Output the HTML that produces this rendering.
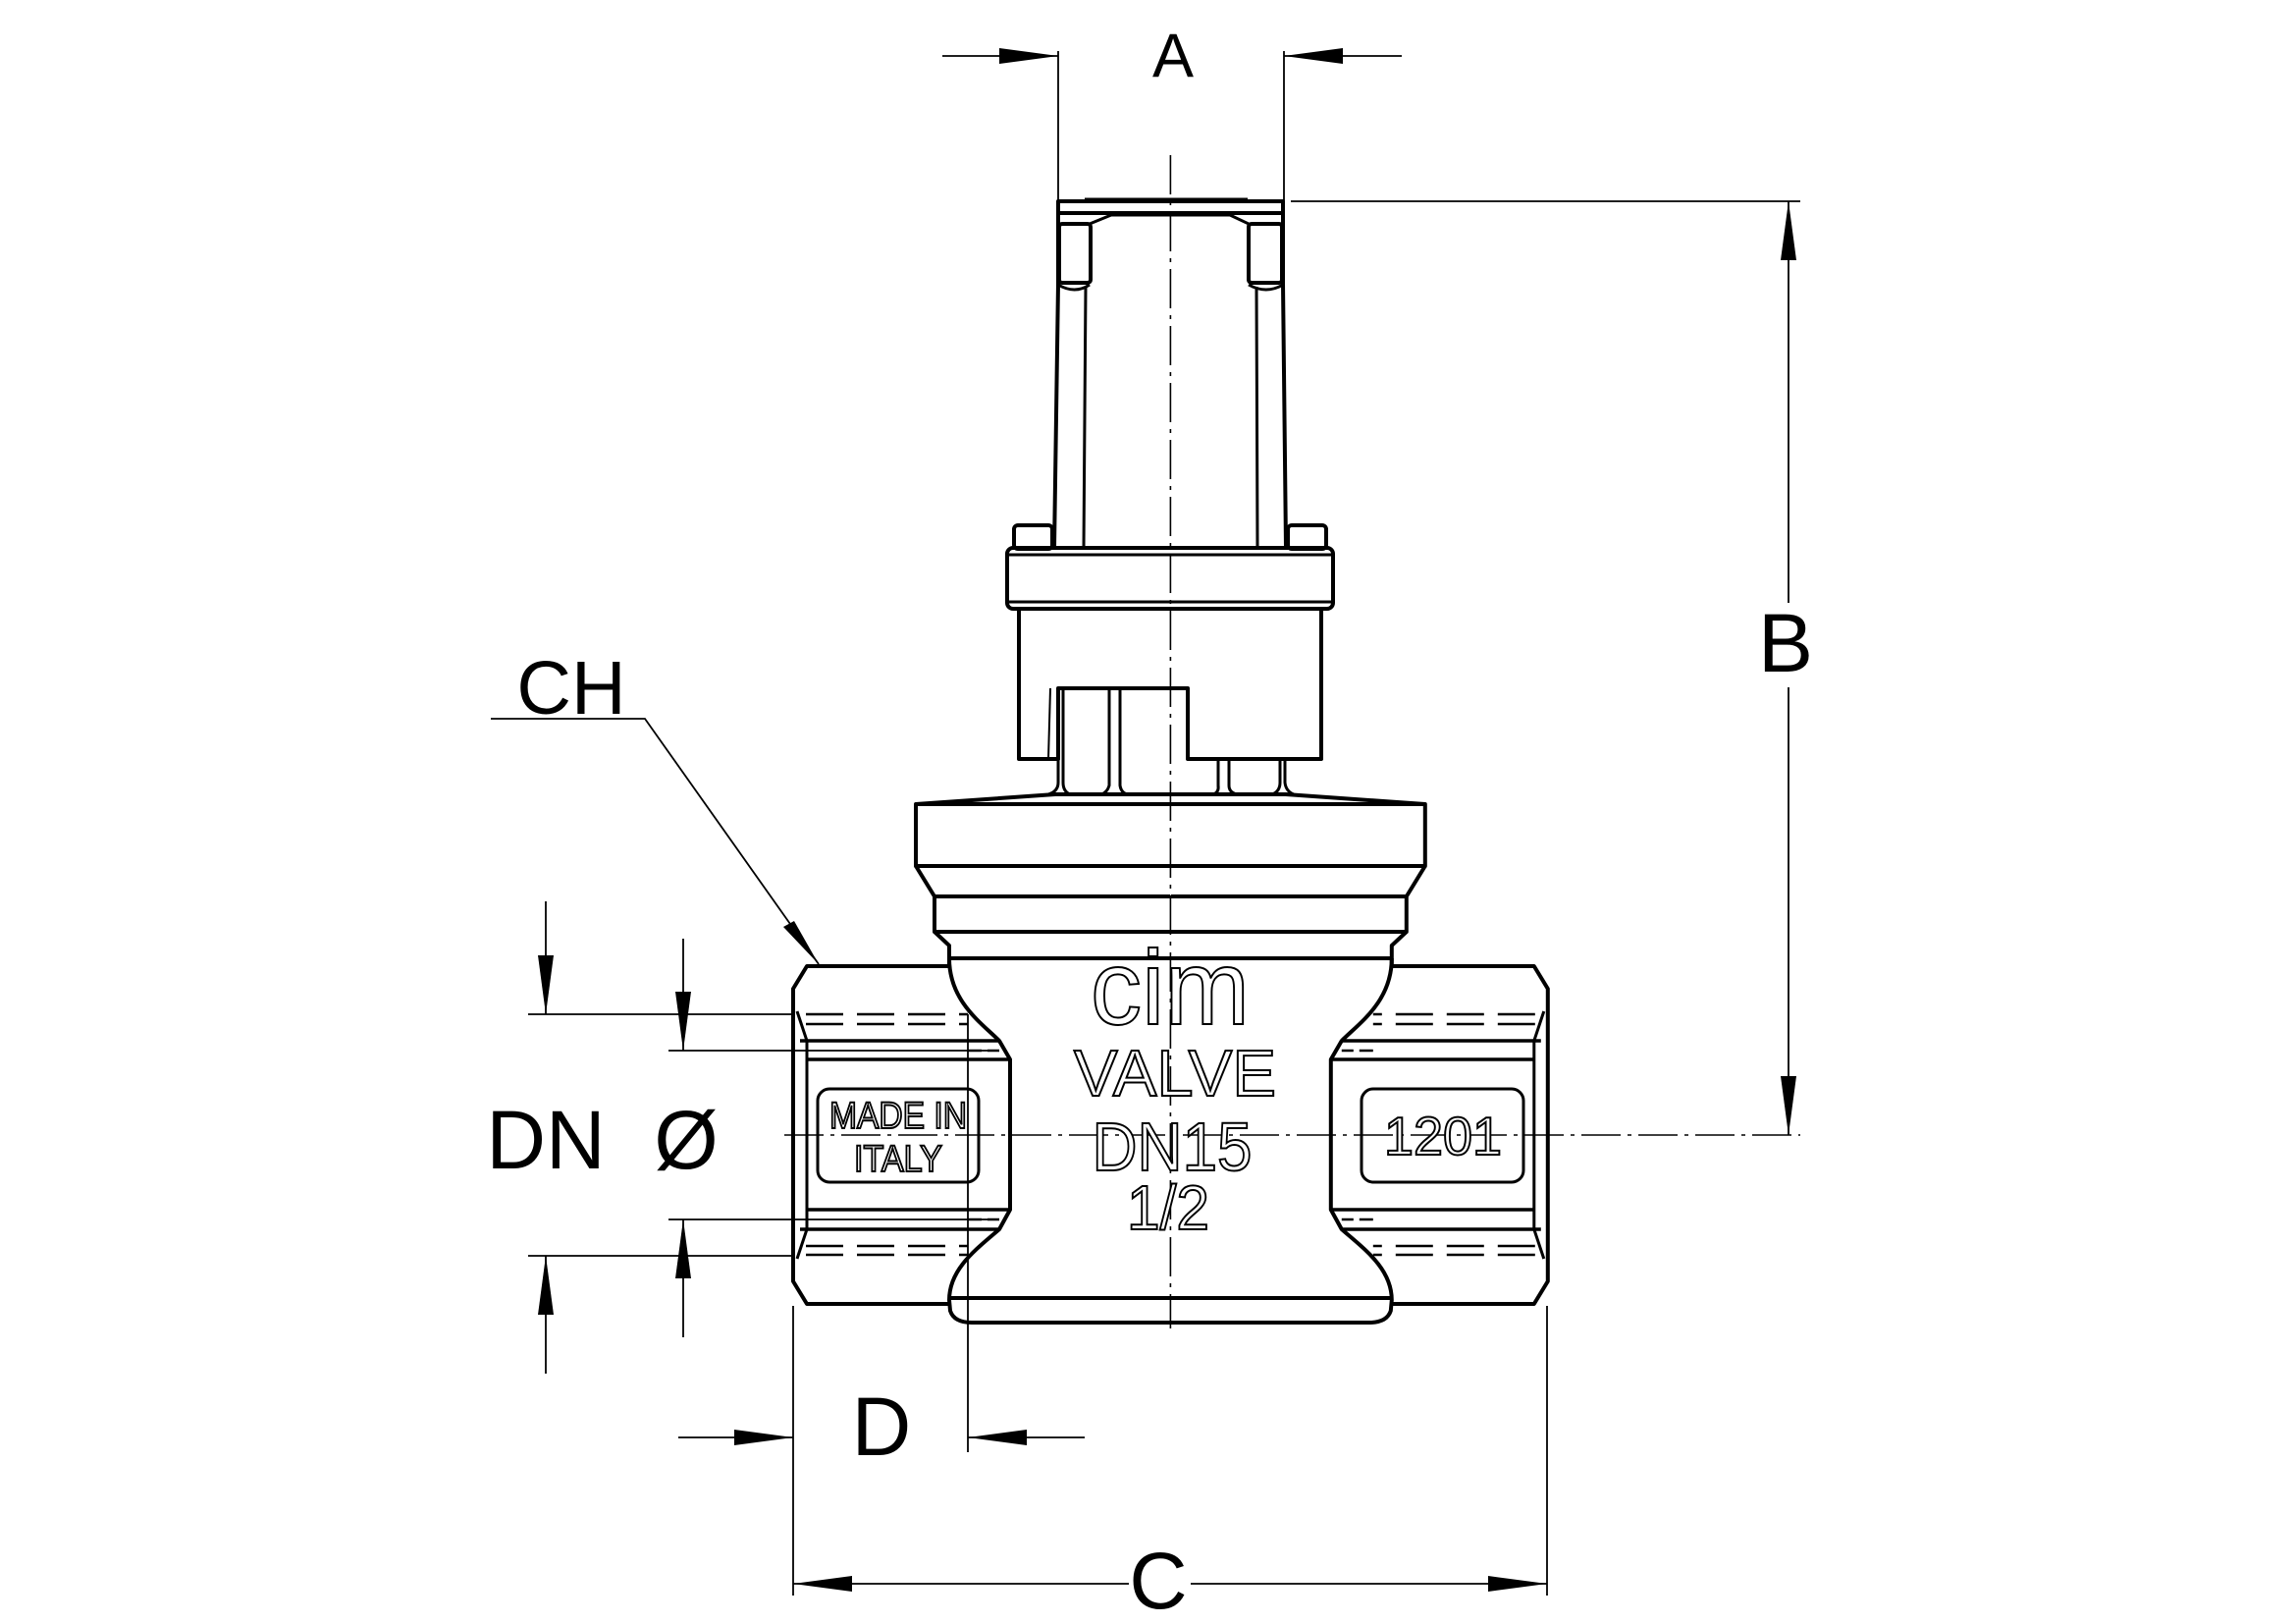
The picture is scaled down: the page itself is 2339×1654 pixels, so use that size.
<!DOCTYPE html>
<html><head><meta charset="utf-8"><style>html,body{margin:0;padding:0;background:#fff}svg{display:block}</style></head>
<body>
<svg xmlns="http://www.w3.org/2000/svg" width="2339" height="1654" viewBox="0 0 2339 1654">
<defs>
<g id="half" fill="none" stroke="#000" stroke-width="4" stroke-linejoin="round">
  <path d="M1192 819 L933 819 L933 882 L1192 882"/>
  <path d="M1192 809 L1075 809 L933 819"/>
  <path d="M933 882 L952 913 L1192 913 M952 913 L952 949 L1192 949 M952 949 L967 963 L967 984"/>
  <path d="M967 976 L1192 976"/>
  <path d="M967 984 L822 984 L808 1007 L808 1305 L822 1328 L967 1328"/>
  <path d="M967 976 C967 1020 1000 1042 1018 1060 L1029 1079 L1029 1232 L1018 1252 C995 1272 967 1292 967 1324 L968 1335 Q972 1347 990 1347 L1192 1347"/>
  <path d="M967 1322 L1192 1322"/>
  <path d="M815 1060 L1018 1060 M822 1079 L1029 1079 M822 1232 L1029 1232 M815 1252 L1018 1252" stroke-width="3.5"/>
  <path d="M812 1030 L822 1060 L822 1252 L812 1282" stroke-width="3"/>
  <path d="M821 1033 L986 1033 M821 1043 L986 1043 M821 1269 L986 1269 M821 1278 L986 1278" stroke-width="2.5" stroke-dasharray="38 14"/>
  <path d="M986 1070 L1018 1070 M986 1242 L1018 1242" stroke-width="2.5" stroke-dasharray="14 6"/>
</g>
<path id="ah" d="M0 0 L-60 -8 L-60 8 Z" fill="#000"/>
</defs>
<rect width="2339" height="1654" fill="#fff"/>
<use href="#half"/>
<use href="#half" transform="matrix(-1 0 0 1 2384.8 0)"/>

<g fill="none" stroke="#000" stroke-width="4" stroke-linejoin="round">
  <rect x="1078" y="205" width="229" height="12"/>
  <path d="M1105 204 L1271 204" stroke-width="5"/>
  <path d="M1078 217 L1078 288 L1074 558 M1307 217 L1307 288 L1310 558"/>
  <rect x="1079" y="228" width="32" height="60" rx="3"/>
  <rect x="1272" y="228" width="34" height="60" rx="3"/>
  <path d="M1110 228 L1132 219 L1253 219 L1272 228" stroke-width="3"/>
  <path d="M1078 290 Q1095 300 1110 290 M1272 290 Q1290 300 1307 290" stroke-width="3"/>
  <path d="M1106 292 L1104 558 M1280 292 L1281 558" stroke-width="3"/>
  <rect x="1033" y="535" width="39" height="24" rx="4"/>
  <rect x="1312" y="535" width="39" height="24" rx="4"/>
  <rect x="1026" y="558" width="332" height="62" rx="6"/>
  <path d="M1028 565 L1356 565 M1028 613 L1356 613" stroke-width="3"/>
  <path d="M1038 620 L1038 773 L1078 773 L1078 701 L1210 701 L1210 773 L1346 773 L1346 620"/>
  <path d="M1070 701 L1068 773" stroke-width="2"/>
  <path d="M1078 773 L1078 797 Q1078 806 1068 809 M1083 701 L1083 797 Q1083 806 1090 809" stroke-width="3"/>
  <path d="M1130 701 L1130 800 Q1128 807 1122 809 M1141 701 L1141 800 Q1142 807 1148 809" stroke-width="3"/>
  <path d="M1241 773 L1241 800 Q1242 807 1236 809 M1252 773 L1252 800 Q1252 807 1260 809" stroke-width="3"/>
  <path d="M1304 773 L1304 797 Q1304 806 1296 809 M1309 773 L1309 797 Q1310 806 1318 809" stroke-width="3"/>
</g>

<g stroke="#000" stroke-width="1.6" fill="none" stroke-dasharray="40 7 4 7">
  <path d="M1192.4 158 L1192.4 1353"/>
  <path d="M799 1156 L1834 1156"/>
</g>

<g fill="none" stroke="#000" stroke-width="3">
  <rect x="833" y="1109" width="164" height="95" rx="12"/>
  <rect x="1387" y="1109" width="165" height="95" rx="12"/>
</g>
<g font-family="Liberation Sans, sans-serif" fill="#fff" stroke="#000" stroke-width="2" text-anchor="middle">
  <text x="915" y="1149" font-size="38" textLength="140" lengthAdjust="spacingAndGlyphs">MADE IN</text>
  <text x="915" y="1193" font-size="38" textLength="90" lengthAdjust="spacingAndGlyphs">ITALY</text>
  <text x="1470" y="1176" font-size="55" textLength="120" lengthAdjust="spacingAndGlyphs">1201</text>
  <text x="1192" y="1043" font-size="108" textLength="162" lengthAdjust="spacingAndGlyphs">cim</text>
  <text x="1197" y="1116" font-size="67" textLength="206" lengthAdjust="spacingAndGlyphs">VALVE</text>
  <text x="1194" y="1192" font-size="70" textLength="163" lengthAdjust="spacingAndGlyphs">DN15</text>
  <text x="1190" y="1252" font-size="64" textLength="84" lengthAdjust="spacingAndGlyphs">1/2</text>
</g>

<g stroke="#000" stroke-width="1.8" fill="none">
  <path d="M1078 52 L1078 205 M1308 52 L1308 205"/>
  <path d="M960 57 L1078 57 M1308 57 L1428 57"/>
  <path d="M1315 205 L1834 205"/>
  <path d="M1822 205 L1822 614 M1822 700 L1822 1156"/>
  <path d="M808 1330 L808 1625 M1576 1330 L1576 1625"/>
  <path d="M808 1613 L1150 1613 M1213 1613 L1576 1613"/>
  <path d="M986 1033 L986 1479"/>
  <path d="M691 1464 L808 1464 M986 1464 L1105 1464"/>
  <path d="M538 1033 L808 1033 M538 1279 L808 1279"/>
  <path d="M556 918 L556 1033 M556 1279 L556 1399"/>
  <path d="M681 1070 L1018 1070 M681 1242 L1018 1242"/>
  <path d="M696 956 L696 1070 M696 1242 L696 1362"/>
  <path d="M500 732 L657 732 L834 982"/>
</g>
<g>
  <use href="#ah" transform="translate(1078 57)"/>
  <use href="#ah" transform="translate(1308 57) rotate(180)"/>
  <use href="#ah" transform="translate(1822 205) rotate(-90)"/>
  <use href="#ah" transform="translate(1822 1156) rotate(90)"/>
  <use href="#ah" transform="translate(808 1613) rotate(180)"/>
  <use href="#ah" transform="translate(1576 1613)"/>
  <use href="#ah" transform="translate(808 1464)"/>
  <use href="#ah" transform="translate(986 1464) rotate(180)"/>
  <use href="#ah" transform="translate(556 1033) rotate(90)"/>
  <use href="#ah" transform="translate(556 1279) rotate(-90)"/>
  <use href="#ah" transform="translate(696 1070) rotate(90)"/>
  <use href="#ah" transform="translate(696 1242) rotate(-90)"/>
  <path d="M834 982 L798 944 L809 938 Z" fill="#000"/>
</g>
<g font-family="Liberation Sans, sans-serif" fill="#000" text-anchor="middle">
  <text x="1195" y="78" font-size="63">A</text>
  <text x="1819" y="684" font-size="84">B</text>
  <text x="1180" y="1638" font-size="82">C</text>
  <text x="898" y="1482" font-size="84">D</text>
  <text x="582" y="727" font-size="77">CH</text>
  <text x="556" y="1190" font-size="84">DN</text>
  <text x="699" y="1190" font-size="84">Ø</text>
</g>
</svg>
</body></html>
